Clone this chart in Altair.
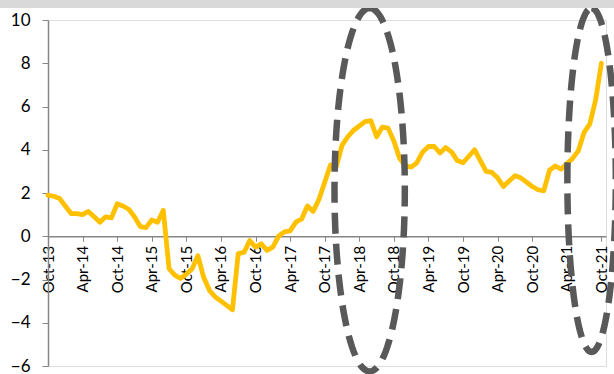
import math
import altair as alt
import pandas as pd

# ---- data ----
tick_labels = ["Oct-13", "Apr-14", "Oct-14", "Apr-15", "Oct-15", "Apr-16", "Oct-16",
               "Apr-17", "Oct-17", "Apr-18", "Oct-18", "Apr-19", "Oct-19", "Apr-20",
               "Oct-20", "Apr-21", "Oct-21"]
values = [1.9, 1.85, 1.75, 1.4, 1.05, 1.05, 1.0, 1.15, 0.9, 0.65, 0.9, 0.85,
          1.5, 1.4, 1.25, 0.9, 0.45, 0.4, 0.75, 0.65, 1.2, -1.5, -1.8, -1.95,
          -1.75, -1.5, -0.9, -1.9, -2.5, -2.8, -3.0, -3.2, -3.4, -0.8, -0.75, -0.2,
          -0.5, -0.35, -0.65, -0.5, 0.0, 0.2, 0.25, 0.65, 0.8, 1.4, 1.15, 1.7,
          2.5, 3.3, 3.2, 4.2, 4.6, 4.9, 5.1, 5.3, 5.35, 4.6, 5.05, 5.0,
          4.4, 3.6, 3.25, 3.2, 3.4, 3.9, 4.15, 4.15, 3.85, 4.1, 3.9, 3.5,
          3.4, 3.7, 4.0, 3.5, 3.0, 2.95, 2.7, 2.3, 2.55, 2.8, 2.7, 2.5,
          2.3, 2.15, 2.1, 3.05, 3.25, 3.1, 3.35, 3.6, 3.95, 4.8, 5.2, 6.3, 8.0]
months = list(range(len(values)))
tick_months = [6 * i for i in range(len(tick_labels))]

# annotation ellipses: centre month, centre value, half-width (months), half-height (units)
ell_cx = [55.8, 94.3]
ell_cy = [2.15, 2.6]
ell_rx = [6.1, 4.2]
ell_ry = [8.4, 7.95]

y_min, y_max = -6, 10
x_max = 96.8
W, H = 558, 346

df = pd.DataFrame({"m": months, "v": values})

rows = []
for k in range(len(ell_cx)):
    n = 120
    for i in range(n + 1):
        t = 2 * math.pi * i / n
        rows.append({"e": k, "o": i,
                     "m": ell_cx[k] + ell_rx[k] * math.sin(t),
                     "v": ell_cy[k] + ell_ry[k] * math.cos(t)})
edf = pd.DataFrame(rows)

label_js = "[" + ",".join("'%s'" % s for s in tick_labels) + "]"
xscale = alt.Scale(domain=[0, x_max], nice=False, zero=False)
yscale = alt.Scale(domain=[y_min, y_max], nice=False)

FONT = "Lato"

xaxis = alt.Axis(
    values=tick_months, labelExpr=label_js + "[round(datum.value/6)]",
    labelAngle=270, labelAlign="right", labelBaseline="middle",
    labelFont=FONT, labelFontSize=15, labelColor="#000000", labelPadding=4,
    tickSize=5, tickColor="#868686", domainColor="#868686", domainWidth=1.5,
    grid=False, title=None, offset=-H * (0 - y_min) / (y_max - y_min),
    labelOverlap=False, labelFlush=False, labelBound=False)
yaxis = alt.Axis(
    values=list(range(y_min, y_max + 1, 2)), labelFont=FONT, labelFontSize=17,
    labelColor="#000000", labelPadding=12, tickSize=6, tickColor="#868686",
    domainColor="#868686", domainWidth=1.5, grid=False, title=None,
    labelFlush=False, labelOverlap=False)

line = alt.Chart(df).mark_line(color="#FFC000", strokeWidth=4.8,
                                strokeJoin="round", strokeCap="round").encode(
    x=alt.X("m:Q", scale=xscale, axis=xaxis),
    y=alt.Y("v:Q", scale=yscale, axis=yaxis),
)

ellipses = alt.Chart(edf).mark_line(color="#595959", strokeWidth=6.5,
                                     strokeDash=[21, 10], clip=False).encode(
    x=alt.X("m:Q", scale=xscale, axis=xaxis),
    y=alt.Y("v:Q", scale=yscale, axis=yaxis),
    detail="e:N",
    order="o:Q",
)

band = alt.Chart(df).mark_rect(color="#D9D9D9", clip=False).encode(
    x=alt.value(-48), x2=alt.value(W + 8), y=alt.value(-20), y2=alt.value(-12))

chart = alt.layer(line, ellipses, band).properties(
    width=W, height=H,
    autosize=alt.AutoSizeParams(type="none"),
    padding={"left": 48, "top": 20, "right": 8, "bottom": 8},
).configure_view(stroke="#BFBFBF", strokeWidth=1.5).configure(background="white")

chart.save("out.html", embed_options={"renderer": "svg", "actions": False})
